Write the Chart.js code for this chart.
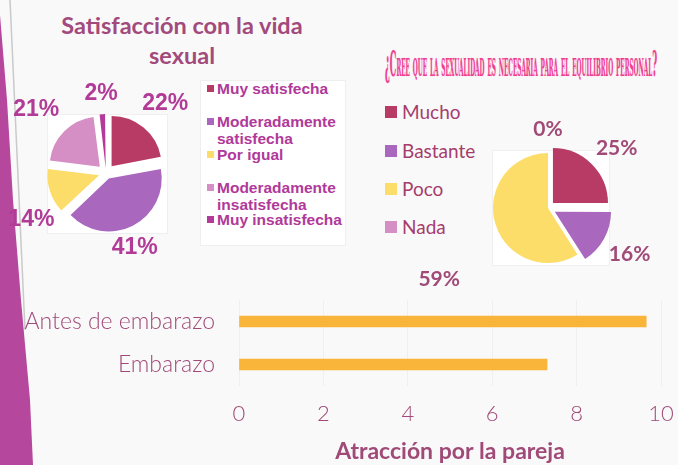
<!DOCTYPE html>
<html>
<head>
<meta charset="utf-8">
<script src="https://cdn.jsdelivr.net/npm/chart.js@4.4.1/dist/chart.umd.min.js"></script>
<style>
html, body { margin: 0; padding: 0; }
body { width: 678px; height: 465px; overflow: hidden; background: #f9f9f9; position: relative; font-family: Lato, sans-serif; }
.abs { position: absolute; }
.box { background: #fff; border: 1px solid #efefef; box-sizing: border-box; }
#title1 { left: 57px; top: 10px; width: 250px; text-align: center; font: bold 23.5px/30px Lato, sans-serif; color: #a24a7c; }
#title2 { left: 385px; top: 43px; white-space: nowrap; font-family: "DejaVu Serif Condensed", "DejaVu Serif", serif; font-weight: bold; font-variant: small-caps; font-size: 36px; line-height: 40px; color: #ee3f92; text-shadow: 0 0 2px #f9b8d6; transform-origin: 0 0; }
.lg1 { position: absolute; left: 207px; width: 132px; font: bold 15.5px/17px "Liberation Sans", Arial, sans-serif; color: #b0399a; padding-left: 10px; }
.lg1 i { position: absolute; left: 0; top: 5px; width: 7px; height: 7px; }
.lg2 { position: absolute; left: 385px; font: 19px/22px Lato, sans-serif; color: #a53c6c; padding-left: 17px; white-space: nowrap; }
.lg2 i { position: absolute; left: 0; top: 5px; width: 12px; height: 12px; }
</style>
</head>
<body>
<svg class="abs" style="left:0;top:0" width="678" height="465">
  <line x1="10" y1="0" x2="25" y2="330" stroke="#cacaca" stroke-width="1.5"/>
  <polygon points="0,15 7,100 13,200 21,300 30,400 33,465 0,465" fill="#b5479c"/>
</svg>

<div class="abs box" style="left:47px;top:114px;width:121px;height:120px"></div>
<div class="abs box" style="left:200px;top:80px;width:146px;height:166px"></div>
<div class="abs box" style="left:492px;top:150px;width:118px;height:116px"></div>

<div id="title1" class="abs">Satisfacción con la vida sexual</div>
<div id="title2" class="abs">¿Cree que la sexualidad es necesaria para el equilibrio personal?</div>

<div id="legend1"></div>
<div id="legend2"></div>

<canvas id="pie1" class="abs" style="left:6px;top:73px" width="200" height="200"></canvas>
<canvas id="pie2" class="abs" style="left:408px;top:98px" width="280" height="220"></canvas>
<canvas id="barChart" class="abs" style="left:0;top:290px" width="678" height="175"></canvas>

<script>
// Satisfacción con la vida sexual
const satLabels = ['Muy satisfecha', 'Moderadamente satisfecha', 'Por igual', 'Moderadamente insatisfecha', 'Muy insatisfecha'];
const satValues = [22, 41, 14, 21, 2];
const satColors = ['#b83b65', '#a967bd', '#fddd6a', '#d58fc4', '#b43a9a'];

// ¿Cree que la sexualidad es necesaria...?
const eqLabels = ['Mucho', 'Bastante', 'Poco', 'Nada'];
const eqValues = [25, 16, 59, 0];
const eqColors = ['#b83b65', '#a967bd', '#fddd6a', '#d58fc4'];

// Atracción por la pareja
const barLabels = ['Antes de embarazo', 'Embarazo'];
const barValues = [9.65, 7.3];

const axisColor = '#a04a78';

// squeeze the decorative title into its width
const t2 = document.getElementById('title2');
t2.style.transform = 'scaleX(' + (272 / t2.scrollWidth) + ')';

// html legends
const lg1Tops = [80, 113, 146, 179, 211];
document.getElementById('legend1').innerHTML = satLabels.map((l, i) =>
    `<div class="lg1" style="top:${lg1Tops[i]}px"><i style="background:${satColors[i]}"></i>${l}</div>`).join('');
const lg2Tops = [101, 140, 178, 216];
document.getElementById('legend2').innerHTML = eqLabels.map((l, i) =>
    `<div class="lg2" style="top:${lg2Tops[i]}px"><i style="background:${eqColors[i]}"></i>${l}</div>`).join('');

// percent labels around the pie
const pctLabels = {
    id: 'pctLabels',
    afterDatasetsDraw(chart, args, opts) {
        const ctx = chart.ctx;
        const meta = chart.getDatasetMeta(0);
        const values = chart.data.datasets[0].data;
        ctx.save();
        ctx.font = opts.font;
        ctx.fillStyle = opts.color;
        ctx.textAlign = 'center';
        ctx.textBaseline = 'middle';
        meta.data.forEach((arc, i) => {
            const p = arc.getProps(['x', 'y', 'startAngle', 'endAngle', 'outerRadius'], true);
            const mid = (p.startAngle + p.endAngle) / 2 + opts.shift[i] * Math.PI / 180;
            const d = p.outerRadius + opts.gap[i];
            ctx.fillText(values[i] + '%', p.x + Math.cos(mid) * d, p.y + Math.sin(mid) * d);
        });
        ctx.restore();
    }
};

new Chart(document.getElementById('pie1'), {
    type: 'pie',
    data: {
        labels: satLabels,
        datasets: [{
            data: satValues,
            backgroundColor: satColors,
            borderWidth: 0,
            offset: [35, 25, 29, 35, 19],
            radius: 50
        }]
    },
    options: {
        responsive: false,
        animation: false,
        plugins: {
            legend: { display: false },
            tooltip: { enabled: false },
            pctLabels: {
                font: 'bold 23px "Liberation Sans", Arial, sans-serif',
                color: '#b13b97',
                gap: [41, 30, 38, 44, 29],
                shift: [1, 6, -14, -3, 0]
            }
        }
    },
    plugins: [pctLabels]
});

new Chart(document.getElementById('pie2'), {
    type: 'pie',
    data: {
        labels: eqLabels,
        datasets: [{
            data: eqValues,
            backgroundColor: eqColors,
            borderWidth: 0,
            offset: [28, 31, 0, 0],
            radius: 55
        }]
    },
    options: {
        responsive: false,
        animation: false,
        plugins: {
            legend: { display: false },
            tooltip: { enabled: false },
            pctLabels: {
                font: 'bold 21px Lato, sans-serif',
                color: '#a04a78',
                gap: [36, 39, 75, 24],
                shift: [4, 1, -17, 0]
            }
        }
    },
    plugins: [pctLabels]
});

new Chart(document.getElementById('barChart'), {
    type: 'bar',
    data: {
        labels: barLabels,
        datasets: [{
            data: barValues,
            backgroundColor: '#f9b53a',
            barThickness: 11
        }]
    },
    options: {
        indexAxis: 'y',
        responsive: false,
        animation: false,
        layout: { padding: { top: 10, right: 17, left: 0, bottom: 0 } },
        plugins: {
            legend: { display: false },
            tooltip: { enabled: false }
        },
        scales: {
            x: {
                min: 0,
                max: 10,
                ticks: { stepSize: 2, color: axisColor, padding: 15, font: { family: 'Lato', size: 22, weight: 300 } },
                grid: { color: 'rgba(0,0,0,0.04)', drawTicks: false },
                border: { display: false },
                title: {
                    display: true,
                    text: 'Atracción por la pareja',
                    color: axisColor,
                    font: { family: 'Lato', size: 23, weight: 'bold' },
                    padding: { top: 0, bottom: 0 }
                },
                afterFit: s => { s.height = 79; s.paddingLeft = 0; s.paddingRight = 0; }
            },
            y: {
                ticks: { color: axisColor, padding: 24, font: { family: 'Lato', size: 23, weight: 300 } },
                grid: { display: false, drawTicks: false },
                border: { display: false },
                afterFit: s => { s.width = 239; s.paddingTop = 0; s.paddingBottom = 0; }
            }
        }
    }
});
</script>
</body>
</html>
